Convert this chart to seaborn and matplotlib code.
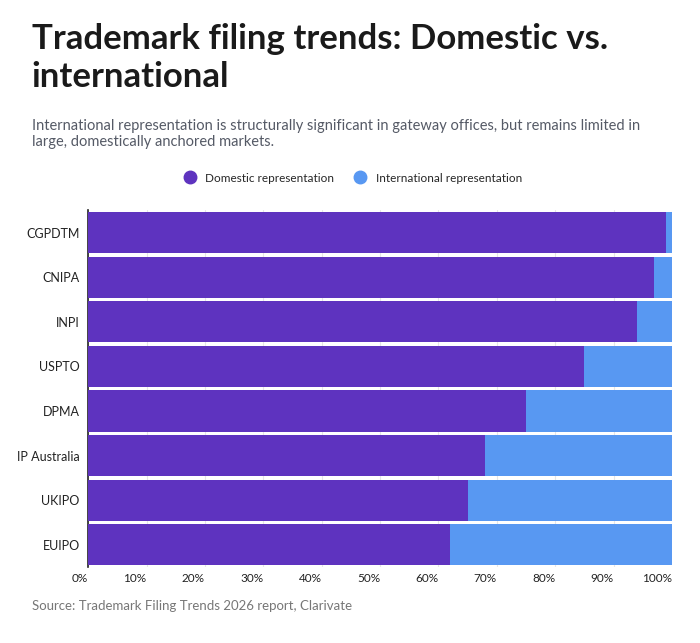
import pandas as pd
import numpy as np
import matplotlib.pyplot as plt
import seaborn as sns
from matplotlib.lines import Line2D

offices = ["CGPDTM", "CNIPA", "INPI", "USPTO", "DPMA", "IP Australia", "UKIPO", "EUIPO"]
domestic = [99.0, 96.9, 94.0, 84.9, 75.0, 68.0, 65.1, 62.0]
international = [100 - d for d in domestic]

c_dom = "#5E33BF"
c_int = "#5898F2"

sns.set_theme(style="white")
plt.rcParams['font.family'] = ['Lato', 'DejaVu Sans']

df = pd.DataFrame({"office": offices, "domestic": domestic, "total": [100] * len(offices)})

fig = plt.figure(figsize=(7, 6.43), dpi=100)
ax = fig.add_axes([0.126, 0.118, 0.834, 0.555])

sns.barplot(data=df, y="office", x="total", color=c_int, saturation=1, width=0.92, ax=ax, zorder=2)
sns.barplot(data=df, y="office", x="domestic", color=c_dom, saturation=1, width=0.92, ax=ax, zorder=3)
for p in ax.patches:
    p.set_linewidth(0)

ax.set_xlim(0, 100)
ax.set_xticks(np.arange(0, 101, 10))
ax.set_xticklabels([f"{t}%" for t in range(0, 101, 10)], ha="right", fontsize=8.5, color="#222222")
ax.tick_params(axis="x", length=0, pad=4)
ax.tick_params(axis="y", length=0, labelsize=9, labelcolor="#222222", pad=6)
ax.grid(axis="x", color="#e6e6e6", linewidth=0.8, zorder=0)
ax.set_axisbelow(True)
ax.set_xlabel("")
ax.set_ylabel("")
for s in ["top", "right", "bottom"]:
    ax.spines[s].set_visible(False)
ax.spines["left"].set_color("#222222")
ax.spines["left"].set_linewidth(1.2)

fig.text(0.045, 0.965, "Trademark filing trends: Domestic vs.\ninternational", fontsize=25,
         fontweight="bold", va="top", color="#1a1a1a", linespacing=1.25)
fig.text(0.045, 0.815, "International representation is structurally significant in gateway offices, but remains limited in\nlarge, domestically anchored markets.",
         fontsize=10.5, va="top", color="#555a66")

handles = [Line2D([], [], marker="o", ls="", color=c_dom, markersize=9),
           Line2D([], [], marker="o", ls="", color=c_int, markersize=9)]
fig.legend(handles, ["Domestic representation", "International representation"],
           loc="center", bbox_to_anchor=(0.5, 0.723), ncol=2, frameon=False,
           fontsize=8.5, handletextpad=0.3, columnspacing=1.2)

fig.text(0.045, 0.057, "Source: Trademark Filing Trends 2026 report, Clarivate", fontsize=9.5,
         color="#777777", va="center")

fig.savefig("out.png", dpi=100)
